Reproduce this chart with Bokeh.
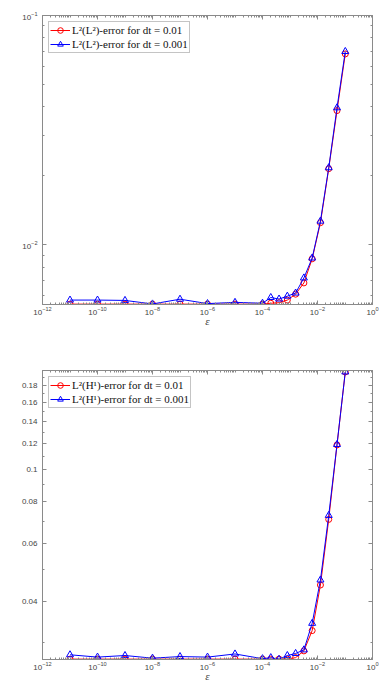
from bokeh.plotting import figure
from bokeh.models import (LogAxis, FixedTicker, LogTickFormatter, Range1d, Legend,
                          CustomJSTickFormatter)
from bokeh.layouts import column
from bokeh.embed import file_html
from bokeh.resources import INLINE

eps = [1e-11, 1e-10, 1e-9, 1e-8, 1e-7, 1e-6, 1e-5, 1e-4, 2e-4, 4e-4, 8e-4,
       1.6e-3, 3.2e-3, 6.4e-3, 1.28e-2, 2.56e-2, 5.12e-2, 1.024e-1]

l2l2_dt1 = [0.00552, 0.00552, 0.00552, 0.00552, 0.00552, 0.00552, 0.00552, 0.00552,
            0.00557, 0.0056, 0.00575, 0.0061, 0.00683, 0.0087, 0.0125, 0.0215, 0.0385, 0.068]
l2l2_dt2 = [0.00575, 0.00575, 0.00573, 0.00553, 0.0058, 0.00555, 0.00562, 0.00557,
            0.0059, 0.00581, 0.00598, 0.00617, 0.00718, 0.00877, 0.0127, 0.0217, 0.0396, 0.0697]

l2h1_dt1 = [0.02672, 0.02672, 0.02672, 0.02672, 0.02672, 0.02672, 0.02672, 0.02672,
            0.02672, 0.02672, 0.02672, 0.0270, 0.0283, 0.0326, 0.0448, 0.0708, 0.119, 0.198]
l2h1_dt2 = [0.02754, 0.0271, 0.0274, 0.0269, 0.0272, 0.0271, 0.0277, 0.0268,
            0.0270, 0.0267, 0.0274, 0.0278, 0.0285, 0.0343, 0.0464, 0.0728, 0.1194, 0.198]

labels_top = ["L\u00b2(L\u00b2)-error for dt = 0.01", "L\u00b2(L\u00b2)-error for dt = 0.001"]
labels_bot = ["L\u00b2(H\u00b9)-error for dt = 0.01", "L\u00b2(H\u00b9)-error for dt = 0.001"]

x_major = [10.0 ** k for k in range(-12, 1, 2)]
x_minor = [m * 10.0 ** k for k in range(-12, 0) for m in range(1, 10) if not (m == 1 and k % 2 == 0)]

top_major = [0.01, 0.1]
top_minor = [0.006, 0.007, 0.008, 0.009, 0.02, 0.03, 0.04, 0.05, 0.06, 0.07, 0.08, 0.09]
bot_major = [0.04, 0.06, 0.08, 0.1, 0.12, 0.14, 0.16, 0.18]
bot_minor = [0.03, 0.05, 0.07, 0.09, 0.11, 0.13, 0.15, 0.17, 0.19, 0.2]

AX = "#8a8a8a"
TXT = "#444444"


def style_axis(ax, show_labels=True):
    ax.axis_line_color = AX
    ax.major_tick_line_color = AX
    ax.minor_tick_line_color = AX
    ax.major_tick_in = 4
    ax.major_tick_out = 0
    ax.minor_tick_in = 2
    ax.minor_tick_out = 0
    ax.major_label_text_font = "Liberation Sans"
    ax.major_label_text_font_size = "8px" if show_labels else "1px"
    ax.major_label_text_color = TXT
    ax.major_label_standoff = 5 if show_labels else 0


def make_plot(y1, y2, labels, yrange, ymaj, ymin, top_border, bottom_border, log_labels):
    p = figure(x_axis_type="log", y_axis_type="log", output_backend="svg",
               toolbar_location=None, frame_width=330, frame_height=289,
               x_range=Range1d(1e-12, 1.0), y_range=Range1d(*yrange),
               min_border_left=42, min_border_right=11,
               min_border_top=top_border, min_border_bottom=bottom_border)
    p.grid.visible = False
    p.outline_line_color = AX
    p.background_fill_color = "white"
    p.border_fill_color = "white"

    p.xaxis.ticker = FixedTicker(ticks=x_major, minor_ticks=x_minor)
    p.xaxis.formatter = LogTickFormatter()
    p.yaxis.ticker = FixedTicker(ticks=ymaj, minor_ticks=ymin)
    if not log_labels:
        p.yaxis.formatter = CustomJSTickFormatter(
            code="return (Math.round(tick*100)/100).toString();")
    else:
        p.yaxis.formatter = LogTickFormatter()
    style_axis(p.xaxis[0])
    style_axis(p.yaxis[0])
    p.xaxis.major_label_standoff = 2
    p.xaxis.axis_label = "\u03b5"
    p.xaxis.axis_label_text_font = "Liberation Serif"
    p.xaxis.axis_label_text_font_style = "italic"
    p.xaxis.axis_label_text_font_size = "11px"
    p.xaxis.axis_label_text_color = TXT
    p.xaxis.axis_label_standoff = -3

    blank = CustomJSTickFormatter(code="return ' ';")
    ra = LogAxis(ticker=FixedTicker(ticks=ymaj, minor_ticks=ymin), formatter=blank)
    style_axis(ra, False)
    p.add_layout(ra, "right")
    ta = LogAxis(ticker=FixedTicker(ticks=x_major, minor_ticks=x_minor), formatter=blank)
    style_axis(ta, False)
    p.add_layout(ta, "above")

    r1 = p.line(eps, y1, line_color="#ff0000", line_width=1)
    s1 = p.scatter(eps, y1, marker="circle", size=6, line_color="#ff0000",
                   fill_color=None, line_width=1)
    r2 = p.line(eps, y2, line_color="#0000ff", line_width=1)
    s2 = p.scatter(eps, y2, marker="triangle", size=7, line_color="#0000ff",
                   fill_color=None, line_width=1)

    legend = Legend(items=[(labels[0], [r1, s1]), (labels[1], [r2, s2])],
                    location="top_left")
    legend.label_text_font = "Liberation Serif"
    legend.label_text_font_size = "11px"
    legend.label_text_color = "#111111"
    legend.label_height = 14
    legend.glyph_height = 14
    legend.glyph_width = 20
    legend.spacing = 0
    legend.padding = 1
    legend.margin = 6
    legend.border_line_color = AX
    legend.label_standoff = 2
    p.add_layout(legend)
    return p


p1 = make_plot(l2l2_dt1, l2l2_dt2, labels_top, (0.0055, 0.1), top_major, top_minor, 15, 31, True)
p2 = make_plot(l2h1_dt1, l2h1_dt2, labels_bot, (0.02665, 0.2), bot_major, bot_minor, 35, 30, False)

layout = column(p1, p2, spacing=0)
open("out.html", "w").write(file_html(layout, INLINE))
